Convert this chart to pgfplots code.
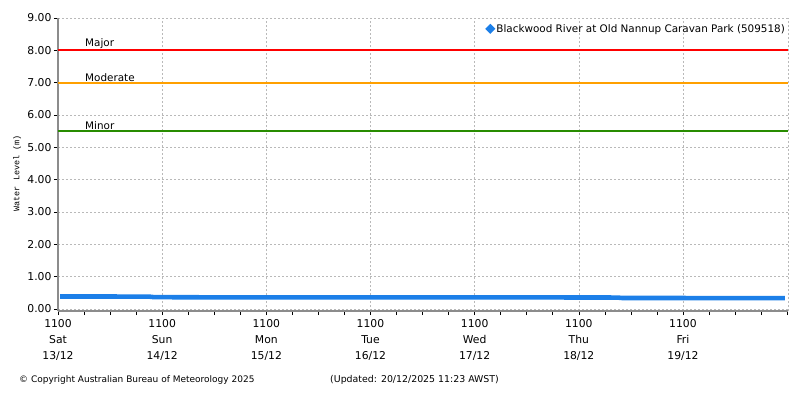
\documentclass[border=0pt]{standalone}
\usepackage{pgfplots}
\pgfplotsset{compat=1.18}
\usepackage{fontspec}
\setmainfont{DejaVu Sans}
\newfontfamily\monofont{Liberation Mono}
\definecolor{bomblue}{RGB}{28,127,232}
\definecolor{minorgreen}{RGB}{40,140,0}
\definecolor{modorange}{RGB}{255,160,0}
\begin{document}
\begin{tikzpicture}
\useasboundingbox (0pt,0pt) rectangle (800pt,400pt);
\begin{axis}[
  at={(58pt,89pt)}, anchor=south west,
  scale only axis, width=730pt, height=293pt,
  xmin=0, xmax=168.2, ymin=-0.06, ymax=9,
  axis lines*=left,
  axis line style={draw=gray!90, line width=1.3pt},
  xtick={0,24,48,72,96,120,144},
  xticklabels={{1100\\Sat\\13/12},{1100\\Sun\\14/12},{1100\\Mon\\15/12},{1100\\Tue\\16/12},{1100\\Wed\\17/12},{1100\\Thu\\18/12},{1100\\Fri\\19/12}},
  minor xtick={6,12,18,30,36,42,54,60,66,78,84,90,102,108,114,126,132,138,150,156,162,168},
  ytick={0,1,2,3,4,5,6,7,8,9},
  yticklabel={\pgfmathprintnumber[fixed,fixed zerofill,precision=2,assume math mode=true]{\tick}},
  tick align=outside,
  major tick length=4pt, minor tick length=4pt,
  tick style={draw=black, line width=0.6pt},
  xticklabel style={align=center, font=\fontsize{10.8}{16}\selectfont, yshift=-1pt},
  yticklabel style={font=\fontsize{10.8}{12}\selectfont, xshift=1pt},
  grid=major,
  major grid style={draw=gray!55, dash pattern=on 2pt off 2pt, line width=0.6pt},
  ylabel={\monofont\fontsize{8.5}{10}\selectfont Water Level (m)},
  ylabel style={at={(axis description cs:-0.056,0.47)}, anchor=center},
  legend style={at={(axis description cs:1.0,0.99)}, anchor=north east, draw=none, fill=none, font=\fontsize{10.4}{12}\selectfont, inner sep=1pt},
  legend cell align=left,
  legend image code/.code={\fill[bomblue] (-0.5em,0) circle (1.8pt);},
  clip=false,
]
\addplot[red, line width=2pt, forget plot] coordinates {(0,8) (168.2,8)};
\addplot[modorange, line width=2pt, forget plot] coordinates {(0,7) (168.2,7)};
\addplot[minorgreen, line width=2pt, forget plot] coordinates {(0,5.5) (168.2,5.5)};
\node[anchor=south west, inner sep=1pt, font=\fontsize{10.4}{12}\selectfont] at (axis cs:6,8) {Major};
\node[anchor=south west, inner sep=1pt, font=\fontsize{10.4}{12}\selectfont] at (axis cs:6,7) {Moderate};
\node[anchor=south west, inner sep=1pt, font=\fontsize{10.4}{12}\selectfont] at (axis cs:6,5.5) {Minor};
\addplot[bomblue, line width=4.6pt]
  coordinates {
  (0.5,0.388) (3,0.389) (6,0.388) (9,0.387) (12,0.388) (15,0.386) (18,0.386) (21,0.385)
  (22,0.37) (24,0.368) (30,0.365) (36,0.362) (42,0.362) (48,0.361) (54,0.361) (60,0.361)
  (66,0.361) (72,0.361) (78,0.361) (84,0.361) (90,0.360) (96,0.360) (102,0.360) (108,0.360)
  (114,0.360) (120,0.358) (126,0.357) (129,0.355) (130,0.342) (136,0.341) (142,0.341)
  (148,0.340) (154,0.340) (160,0.340) (164,0.340) (167.5,0.340)};
\addlegendentry{Blackwood River at Old Nannup Caravan Park (509518)}
\draw[gray!55, dash pattern=on 2pt off 2pt, line width=0.8pt] (rel axis cs:1,0) -- (rel axis cs:1,1);
\end{axis}
\node[anchor=west, font=\fontsize{9}{10}\selectfont, inner sep=0pt] at (19pt,20pt) {© Copyright Australian Bureau of Meteorology 2025};
\node[anchor=west, font=\fontsize{9.4}{10}\selectfont, inner sep=0pt] at (330pt,20pt) {(Updated: 20/12/2025 11:23 AWST)};
\end{tikzpicture}
\end{document}
